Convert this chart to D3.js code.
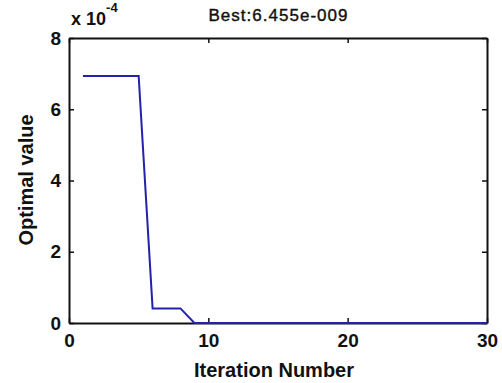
<!DOCTYPE html>
<html>
<head>
<meta charset="utf-8">
<script src="https://cdn.jsdelivr.net/npm/d3@7"></script>
<style>
  html, body { margin: 0; padding: 0; background: #fff; }
  svg text { font-family: "Liberation Sans", Arial, sans-serif; fill: #111; }
</style>
</head>
<body>
<svg id="chart" width="502" height="383"></svg>
<script>
// Convergence history: best objective value per iteration
const iterations = d3.range(1, 31);
const bestValues = [
  6.93e-4, 6.93e-4, 6.93e-4, 6.93e-4, 6.93e-4,
  0.41e-4, 0.41e-4, 0.41e-4,
  6.455e-9, 6.455e-9, 6.455e-9, 6.455e-9, 6.455e-9, 6.455e-9, 6.455e-9,
  6.455e-9, 6.455e-9, 6.455e-9, 6.455e-9, 6.455e-9, 6.455e-9, 6.455e-9,
  6.455e-9, 6.455e-9, 6.455e-9, 6.455e-9, 6.455e-9, 6.455e-9, 6.455e-9,
  6.455e-9
];
const xTicks = [0, 10, 20, 30];
const yTicks = [0, 2e-4, 4e-4, 6e-4, 8e-4];
const titleText = "Best:6.455e-009";
const xLabel = "Iteration Number";
const yLabel = "Optimal value";

const margin = { left: 69, right: 15, top: 38, bottom: 60 };
const W = 502, H = 383;
const svg = d3.select("#chart");

const x = d3.scaleLinear().domain([0, 30]).range([margin.left, W - margin.right]);
const y = d3.scaleLinear().domain([0, 8e-4]).range([H - margin.bottom, margin.top]);

const fmt = v => String(Math.round(v * 1e4));

// Axes with inward ticks on all four sides
const tickLen = 5;
const gx = svg.append("g").attr("transform", `translate(0,${y(0)})`)
  .call(d3.axisBottom(x).tickValues(xTicks).tickSizeInner(-tickLen).tickSizeOuter(0).tickPadding(10).tickFormat(d3.format("d")));
const gxTop = svg.append("g").attr("transform", `translate(0,${y(8e-4)})`)
  .call(d3.axisTop(x).tickValues(xTicks).tickSizeInner(-tickLen).tickSizeOuter(0).tickFormat(""));
const gy = svg.append("g").attr("transform", `translate(${x(0)},0)`)
  .call(d3.axisLeft(y).tickValues(yTicks).tickSizeInner(-tickLen).tickSizeOuter(0).tickPadding(8).tickFormat(fmt));
const gyRight = svg.append("g").attr("transform", `translate(${x(30)},0)`)
  .call(d3.axisRight(y).tickValues(yTicks).tickSizeInner(-tickLen).tickSizeOuter(0).tickFormat(""));

[gx, gxTop, gy, gyRight].forEach(g => {
  g.select(".domain").attr("stroke", "#111").attr("stroke-width", 2);
  g.selectAll(".tick line").attr("stroke", "#111").attr("stroke-width", 1.5);
  g.selectAll("text")
    .style("font-family", '"Liberation Sans", Arial, sans-serif')
    .style("font-size", "19px")
    .style("font-weight", "bold")
    .attr("fill", "#111");
});
gx.selectAll("text").attr("dy", "0.72em");

// Data line, drawn over the frame so the tail sits on the x axis
const line = d3.line().x((d, i) => x(iterations[i])).y(d => y(d));
svg.append("path")
  .datum(bestValues)
  .attr("d", line)
  .attr("fill", "none")
  .attr("stroke", "#2222aa")
  .attr("stroke-width", 2);

// Exponent multiplier above the y axis
const mult = svg.append("text")
  .attr("x", x(0) + 2)
  .attr("y", 25)
  .style("font-size", "18px")
  .style("font-weight", "bold");
mult.append("tspan").text("x 10");
mult.append("tspan").attr("dy", -13).style("font-size", "13px").text("-4");

// Title
svg.append("text")
  .attr("x", (x(0) + x(30)) / 2)
  .attr("y", 21)
  .attr("text-anchor", "middle")
  .style("font-size", "17px")
  .attr("stroke", "#111")
  .attr("stroke-width", 0.4)
  .attr("textLength", 139)
  .text(titleText);

// Axis labels
svg.append("text")
  .attr("x", 274)
  .attr("y", 377)
  .attr("text-anchor", "middle")
  .style("font-size", "20px")
  .style("font-weight", "bold")
  .text(xLabel);

svg.append("text")
  .attr("transform", `translate(33,180) rotate(-90)`)
  .attr("text-anchor", "middle")
  .style("font-size", "20px")
  .style("font-weight", "bold")
  .text(yLabel);
</script>
</body>
</html>
